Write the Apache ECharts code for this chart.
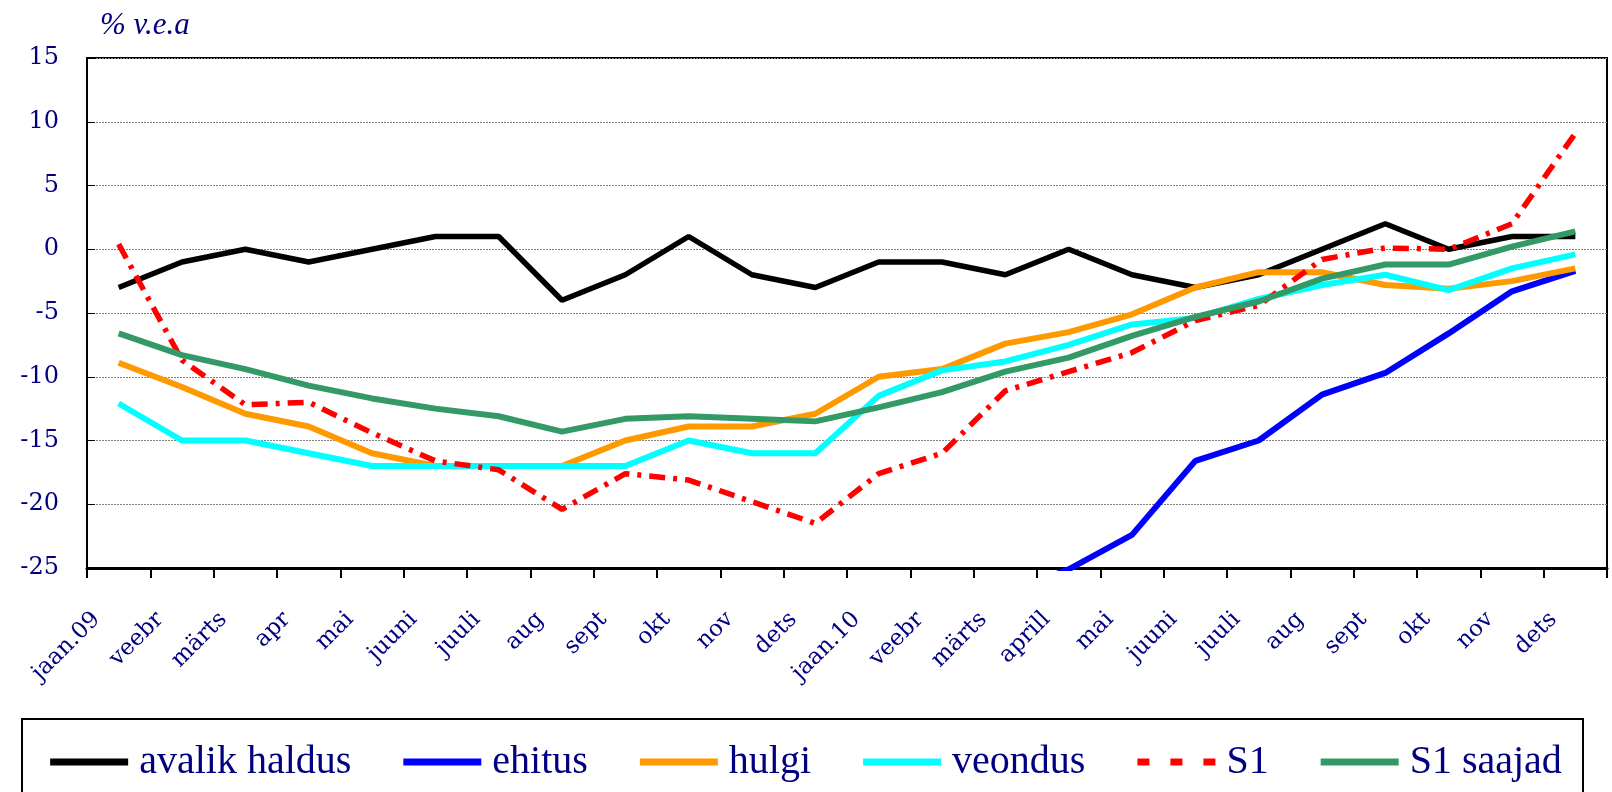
<!DOCTYPE html>
<html>
<head>
<meta charset="utf-8">
<script src="https://cdn.jsdelivr.net/npm/echarts@6/dist/echarts.min.js"></script>
<style>
  html, body { margin: 0; padding: 0; background: #fff; }
  #chart { width: 1612px; height: 792px; }
</style>
</head>
<body>
<div id="chart"></div>
<script>
const months = ['jaan.09', 'veebr', 'märts', 'apr', 'mai', 'juuni', 'juuli', 'aug', 'sept', 'okt', 'nov', 'dets',
  'jaan.10', 'veebr', 'märts', 'aprill', 'mai', 'juuni', 'juuli', 'aug', 'sept', 'okt', 'nov', 'dets'];

const avalikHaldus = [-3, -1, 0, -1, 0, 1, 1, -4, -2, 1, -2, -3, -1, -1, -2, 0, -2, -3, -2, 0, 2, 0, 1, 1];
// first months of ehitus lie below the axis minimum (-25) and are clipped
const ehitus = [-30, -31, -33, -34, -35, -35, -36, -36, -35, -34, -33, -32, -30, -29, -27, -25.1, -22.4, -16.6, -15.0, -11.4, -9.7, -6.6, -3.3, -1.7];
const hulgi = [-8.9, -10.8, -12.9, -13.9, -16.0, -17.0, -17.0, -17.0, -15.0, -13.9, -13.9, -12.9, -10.0, -9.4, -7.4, -6.5, -5.1, -3.0, -1.8, -1.8, -2.8, -3.1, -2.5, -1.5];
const veondus = [-12.1, -15.0, -15.0, -16.0, -17.0, -17.0, -17.0, -17.0, -17.0, -15.0, -16.0, -16.0, -11.5, -9.5, -8.8, -7.5, -5.9, -5.4, -3.9, -2.8, -2.0, -3.2, -1.5, -0.4];
const s1 = [0.4, -8.7, -12.2, -12.0, -14.4, -16.6, -17.3, -20.4, -17.6, -18.1, -19.8, -21.5, -17.6, -16.0, -11.1, -9.6, -8.1, -5.6, -4.4, -0.8, 0.1, 0.0, 2.0, 9.1];
const s1Saajad = [-6.6, -8.3, -9.4, -10.7, -11.7, -12.5, -13.1, -14.3, -13.3, -13.1, -13.3, -13.5, -12.4, -11.2, -9.6, -8.5, -6.8, -5.3, -4.1, -2.3, -1.2, -1.2, 0.2, 1.4];

const navy = '#000080';
const chart = echarts.init(document.getElementById('chart'));

function line(name, data, color, width, type) {
  return {
    name: name,
    type: 'line',
    data: data,
    symbol: 'none',
    clip: true,
    color: color,
    itemStyle: { color: color },
    lineStyle: { color: color, width: width, type: type || 'solid' },
    emphasis: { disabled: true }
  };
}

const dashIcon = 'path://M0,0h12v7h-12zM33,0h12v7h-12zM66,0h12v7h-12z';

chart.setOption({
  animation: false,
  title: {
    text: '% v.e.a',
    left: 95,
    top: 5,
    textStyle: { fontFamily: 'Liberation Serif', fontStyle: 'italic', fontWeight: 'normal', fontSize: 31, color: navy }
  },
  grid: {
    left: 87, right: 5, top: 58, bottom: 224,
    show: true, borderColor: '#000', borderWidth: 2
  },
  legend: {
    left: 'center',
    top: 737,
    itemWidth: 78,
    itemHeight: 7,
    itemGap: 52,
    textStyle: { fontFamily: 'Liberation Serif', fontSize: 40, color: navy, padding: [0, 0, 0, 6] },
    data: [
      { name: 'avalik haldus', icon: 'rect' },
      { name: 'ehitus', icon: 'rect' },
      { name: 'hulgi', icon: 'rect' },
      { name: 'veondus', icon: 'rect' },
      { name: 'S1', icon: dashIcon },
      { name: 'S1 saajad', icon: 'rect' }
    ]
  },
  graphic: [{
    type: 'rect',
    shape: { x: 22, y: 719, width: 1561, height: 90 },
    style: { fill: 'none', stroke: '#000', lineWidth: 2 },
    silent: true
  }],
  xAxis: {
    type: 'category',
    data: months,
    boundaryGap: true,
    axisLine: { onZero: false, lineStyle: { color: '#000', width: 3 } },
    axisTick: { show: true, inside: false, length: 10, lineStyle: { color: '#000', width: 2 } },
    axisLabel: {
      interval: 0,
      rotate: 45,
      margin: 26,
      fontFamily: 'DejaVu Serif',
      fontSize: 23,
      color: navy,
      // blank spacer at the end of each label pushes it left along its slant
      formatter: (v) => v + '{s|}',
      rich: { s: { width: 31 } }
    }
  },
  yAxis: {
    type: 'value',
    min: -25,
    max: 15,
    interval: 5,
    axisLine: { show: true, lineStyle: { color: '#000', width: 2 } },
    axisTick: { show: true, inside: true, length: 8, lineStyle: { color: '#000', width: 1 } },
    axisLabel: { margin: 28, fontFamily: 'DejaVu Serif', fontSize: 24, color: navy },
    splitLine: { show: true, lineStyle: { color: '#808080', width: 1, type: [2, 1] } }
  },
  series: [
    line('avalik haldus', avalikHaldus, '#000000', 5.5),
    line('ehitus', ehitus, '#0000ff', 6),
    line('hulgi', hulgi, '#ff9900', 6),
    line('veondus', veondus, '#00ffff', 6),
    line('S1', s1, '#ff0000', 5.5, [16, 8, 4, 8]),
    line('S1 saajad', s1Saajad, '#339966', 6)
  ]
});
</script>
</body>
</html>
